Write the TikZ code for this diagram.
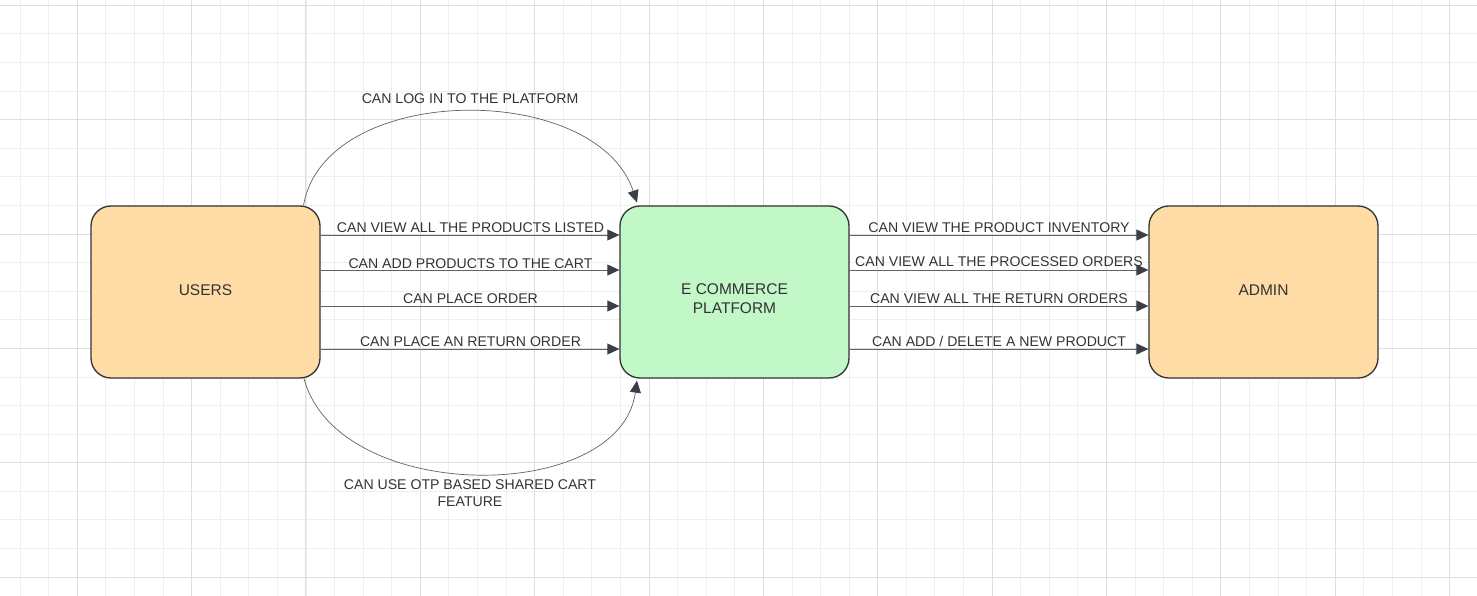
\documentclass[tikz,border=0pt]{standalone}
\usepackage{fontspec}
\setmainfont{Liberation Sans}
\usetikzlibrary{arrows.meta}
\definecolor{gridminor}{HTML}{EFEFEF}
\definecolor{gridmajor}{HTML}{DEDEDE}
\definecolor{userfill}{HTML}{FFDCA5}
\definecolor{platfill}{HTML}{C2F7C8}
\definecolor{boxline}{HTML}{333333}
\definecolor{conline}{HTML}{5F6368}
\definecolor{tipcol}{HTML}{3A3F47}
\definecolor{txt}{HTML}{333333}
\tikzset{
  entity/.style={draw=boxline, line width=1.3pt, rounded corners=20pt,
    minimum width=229pt, minimum height=172pt, inner sep=0pt,
    text=txt, align=center, font=\fontsize{15.5}{19}\selectfont},
  conn/.style={draw=conline, line width=0.9pt,
    -{Triangle[length=12pt,width=11pt,fill=tipcol,color=tipcol]}},
  lbl/.style={text=txt, font=\fontsize{14.1}{17}\selectfont, inner sep=0pt, align=center}
}
\begin{document}
\begin{tikzpicture}[x=1pt,y=-1pt]
\useasboundingbox (0,0) rectangle (1477,596);
\fill[white] (0,0) rectangle (1477,596);
% grid
\foreach \i in {0,...,52} {
  \draw[gridminor, line width=0.9pt] ({20.05+28.59*\i},0) -- ({20.05+28.59*\i},596);
}
\foreach \i in {0,...,21} {
  \draw[gridminor, line width=0.9pt] (0,{5.3+28.59*\i}) -- (1477,{5.3+28.59*\i});
}
\foreach \i in {0,...,12} {
  \draw[gridmajor, line width=1pt] ({77.25+114.36*\i},0) -- ({77.25+114.36*\i},596);
}
\foreach \i in {0,...,5} {
  \draw[gridmajor, line width=1pt] (0,{5.3+114.36*\i}) -- (1477,{5.3+114.36*\i});
}
% boxes
\node[entity, fill=userfill] (users) at (205.5,292) {\raisebox{3pt}{USERS}};
\node[entity, fill=platfill] (plat) at (734.5,292) {\rule{0pt}{25pt}E COMMERCE\\PLATFORM};
\node[entity, fill=userfill] (admin) at (1263.5,292) {\raisebox{3pt}{ADMIN}};
% left arrows
\draw[conn] ([yshift=57pt]users.east) -- ([yshift=57pt]plat.west);
\draw[conn] ([yshift=22pt]users.east) -- ([yshift=22pt]plat.west);
\draw[conn] ([yshift=-14pt]users.east) -- ([yshift=-14pt]plat.west);
\draw[conn] ([yshift=-57pt]users.east) -- ([yshift=-57pt]plat.west);
\node[lbl] (l1) at (470.5,227.5) {CAN VIEW ALL THE PRODUCTS LISTED};
\node[lbl] (l2) at (470.5,263.5) {CAN ADD PRODUCTS TO THE CART};
\node[lbl] (l3) at (470.5,298.5) {CAN PLACE ORDER};
\node[lbl] (l4) at (470.5,341.5) {CAN PLACE AN RETURN ORDER};
% right arrows
\draw[conn] ([yshift=57pt]plat.east) -- ([yshift=57pt]admin.west);
\draw[conn] ([yshift=22pt]plat.east) -- ([yshift=22pt]admin.west);
\draw[conn] ([yshift=-14pt]plat.east) -- ([yshift=-14pt]admin.west);
\draw[conn] ([yshift=-57pt]plat.east) -- ([yshift=-57pt]admin.west);
\node[lbl] (r1) at (999,227.5) {CAN VIEW THE PRODUCT INVENTORY};
\node[lbl] (r2) at (999,262) {CAN VIEW ALL THE PROCESSED ORDERS};
\node[lbl] (r3) at (999,298.5) {CAN VIEW ALL THE RETURN ORDERS};
\node[lbl] (r4) at (999,341.5) {CAN ADD / DELETE A NEW PRODUCT};
% arcs
\draw[conn, line width=0.7pt] ([xshift=98pt]users.north) .. controls (325,82) and (596,80) .. ([xshift=-97.5pt,yshift=3pt]plat.north);
\node[lbl] (ltop) at (470,98.5) {CAN LOG IN TO THE PLATFORM};
\draw[conn, line width=0.7pt] ([xshift=98.5pt]users.south) .. controls (338,505) and (620,505) .. ([xshift=-97.5pt,yshift=-2pt]plat.south);
\node[lbl] (lbot) at (470,493.5) {CAN USE OTP BASED SHARED CART\\FEATURE};
\end{tikzpicture}
\end{document}
